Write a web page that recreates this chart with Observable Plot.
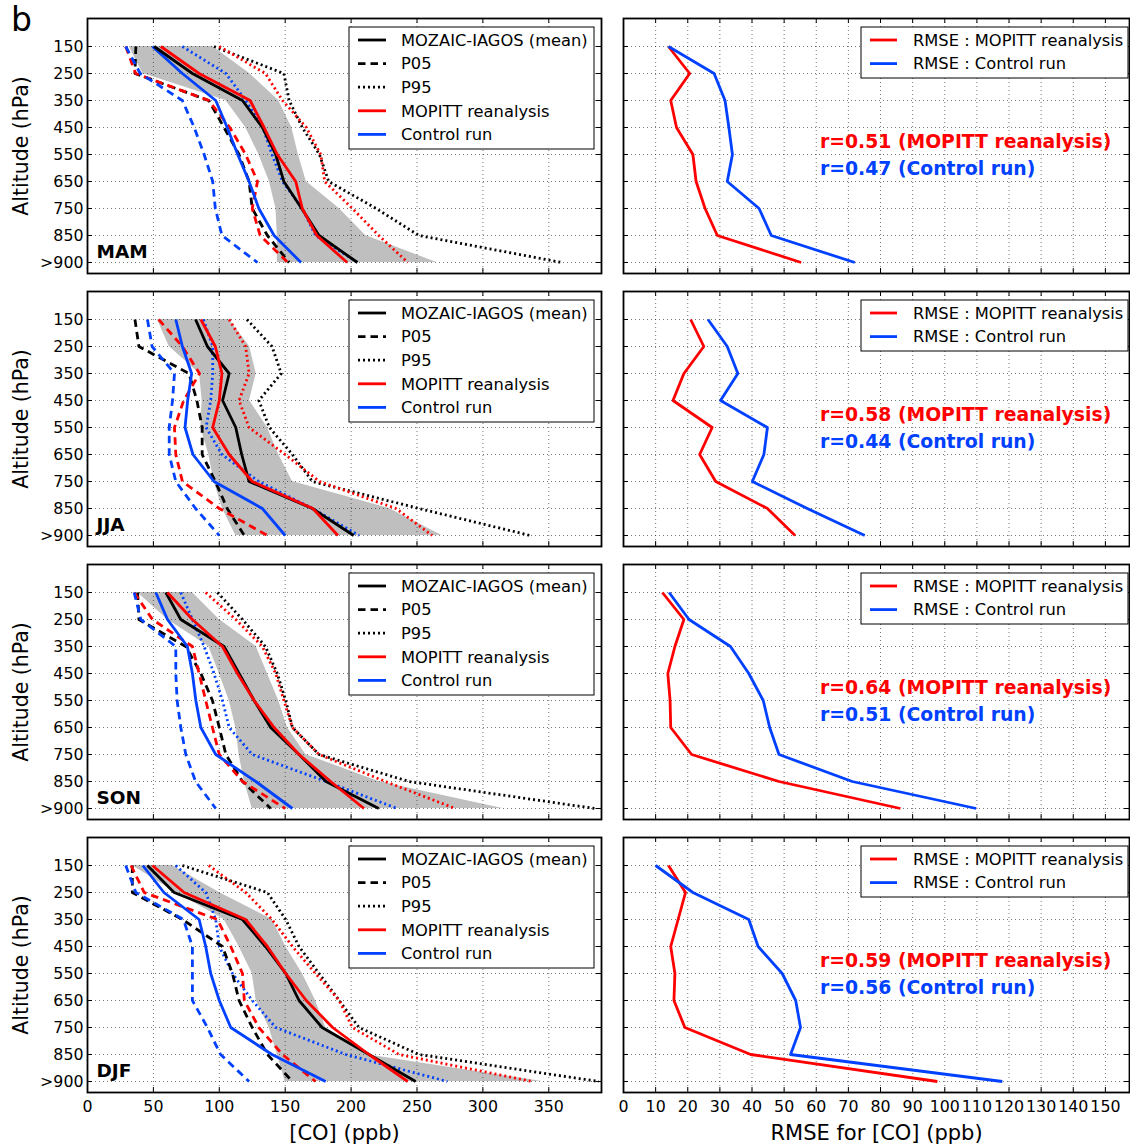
<!DOCTYPE html>
<html><head><meta charset="utf-8">
<script src="https://cdn.jsdelivr.net/npm/d3@7"></script>
<script src="https://cdn.jsdelivr.net/npm/@observablehq/plot@0.6"></script>
<style>
body{margin:0;background:#fff}
#fig{position:relative;width:1130px;height:1147px;font-family:"DejaVu Sans",sans-serif;overflow:hidden;background:#fff}
.cell{position:absolute}
.cell svg{display:block;max-width:none}
</style></head><body><div id="fig"></div>
<script>
// ---------- categories & ticks ----------
const levels = ["150","250","350","450","550","650","750","850",">900"];
const seasonNames = ["MAM","JJA","SON","DJF"];
const coTicks = [0,50,100,150,200,250,300,350];
const rmseTicks = [0,10,20,30,40,50,60,70,80,90,100,110,120,130,140,150];
const legendLeft = ["MOZAIC-IAGOS (mean)","P05","P95","MOPITT reanalysis","Control run"];
const legendRight = ["RMSE : MOPITT reanalysis","RMSE : Control run"];

// ---------- MAM ----------
const mamObsMean = [50.6,79.6,117.6,132.7,142.8,149,162.5,175.7,204.8];
const mamObsP05  = [36.7,36,92,103.6,115,122.6,125,136.5,153];
const mamObsP95  = [96,149,153,163,176,183,219,251.5,360];
const mamReaMean = [55.6,84.7,123.4,134,144,158,163,174,197];
const mamReaP05  = [29,36.5,92,108,120,129,125,131,152];
const mamReaP95  = [100,135,148,166,177,180,201,221,243];
const mamCtlMean = [49.3,72,97.3,106,114,122.6,130,141.6,162];
const mamCtlP05  = [29,40,72,81,88.5,95,97,102,129];
const mamCtlP95  = [72,105,120,133,140,148,163,173,205];
const mamBandLo  = [31.6,42,105,120,130,138,143,144,144];
const mamBandHi  = [95,123,145,155,160,166,191,211,265];
const mamRmseRea = [14,20.6,14.7,16.5,21.6,22.6,25.4,29.2,55.3];
const mamRmseCtl = [14,28.2,31.6,32.8,33.9,32.3,42.2,46,72];
const mamR = ["r=0.51 (MOPITT reanalysis)","r=0.47 (Control run)"];

// ---------- JJA ----------
const jjaObsMean = [82,91,107.5,102.5,112.5,117,122.6,170.6,202];
const jjaObsP05  = [36,39,77,83,87,87,97,106,119];
const jjaObsP95  = [121,140,147,130,138,155.5,170.6,251.5,336];
const jjaReaMean = [86,97,102,100,95,107.5,125,171,190];
const jjaReaP05  = [54,72,85,73,66,67,72,100,136.5];
const jjaReaP95  = [107.5,120,122.6,115,122.6,150,176,234,261.6];
const jjaCtlMean = [67,72,79,76,74,80,96,132.7,150];
const jjaCtlP05  = [45.5,49,66,64.5,62,62,67,82,100];
const jjaCtlP95  = [88,95,95,93.5,90,102,130,170.6,206];
const jjaBandLo  = [53,62,85,87,86,92,96,102.4,112.5];
const jjaBandHi  = [107.5,123,128,123,136.5,145,155.5,229,269];
const jjaRmseRea = [20.9,25,18.8,15.4,27.6,23.7,28.7,44.8,53.4];
const jjaRmseCtl = [26.3,32.3,35.6,30.2,44.8,43.7,40.1,57.2,75.1];
const jjaR = ["r=0.58 (MOPITT reanalysis)","r=0.44 (Control run)"];

// ---------- SON ----------
const sonObsMean = [59.4,70.8,103.6,115,126.4,139,160.5,181,221];
const sonObsP05  = [38,39,74.6,86,94.8,100,105,117.6,139];
const sonObsP95  = [98.6,117.6,135,144,150.4,155.5,175.7,244,385];
const sonReaMean = [60.7,79.6,102.4,113.8,126.4,141.6,160.5,184.5,209.8];
const sonReaP05  = [35.4,49.3,79.6,84.7,89.7,94.8,100,117.6,150];
const sonReaP95  = [89.7,112.5,132.7,142.8,149,155.5,175.7,226,279];
const sonCtlMean = [51.8,60.7,75.8,79.6,82.2,86,97.3,127.7,155.5];
const sonCtlP05  = [35.4,40.5,67,67,68,70.8,74.6,82,97.3];
const sonCtlP95  = [70.8,79.6,88.5,96,102.4,107.5,125,181,235];
const sonBandLo  = [38,60.7,92,100,107.5,112.5,115,119,125];
const sonBandHi  = [79.6,100,128,136.5,145,151.7,165.6,221,315];
const sonRmseRea = [12.1,18.8,16,13.8,14.5,14.7,21.2,48.4,86.2];
const sonRmseCtl = [14.2,20.4,33.3,39,43.5,45.5,48.4,71.2,109.8];
const sonR = ["r=0.64 (MOPITT reanalysis)","r=0.51 (Control run)"];

// ---------- DJF ----------
const djfObsMean = [45.5,65.7,117.6,135,150.4,160.5,178,213.6,249];
const djfObsP05  = [34,34,72,102.4,110,115,125,136.5,155.5];
const djfObsP95  = [72,136.5,150.4,160.5,175.7,191,206,251.5,388];
const djfReaMean = [49.3,73.3,120,136.5,150.4,166,186,213.6,243];
const djfReaP05  = [33,43,98.6,108.7,117.6,119,130,148,173];
const djfReaP95  = [92,120,140,155.5,173,191,201,236.4,337.5];
const djfCtlMean = [42,58,84.7,89.7,93.5,100,108.7,140,180.7];
const djfCtlP05  = [29,36.7,72.8,79.6,79.6,79.6,91,101,122.6];
const djfCtlP95  = [67,89.7,97.3,100,110,125,142.8,196,273];
const djfBandLo  = [34,67,103.6,115,125,128,137.8,144,150];
const djfBandHi  = [64.5,100,140,150.4,163,173,180.7,211,345];
const djfRmseRea = [14,19.3,17,14.7,16,15.7,19.1,39.6,97.7];
const djfRmseCtl = [10,21.6,39,41.9,49.4,53.6,55.1,52,117.9];
const djfR = ["r=0.59 (MOPITT reanalysis)","r=0.56 (Control run)"];

// ---------- assemble ----------
const seasons = [
  {name:"MAM",obsMean:mamObsMean,obsP05:mamObsP05,obsP95:mamObsP95,reaMean:mamReaMean,reaP05:mamReaP05,reaP95:mamReaP95,ctlMean:mamCtlMean,ctlP05:mamCtlP05,ctlP95:mamCtlP95,lo:mamBandLo,hi:mamBandHi,rmseRea:mamRmseRea,rmseCtl:mamRmseCtl,r:mamR},
  {name:"JJA",obsMean:jjaObsMean,obsP05:jjaObsP05,obsP95:jjaObsP95,reaMean:jjaReaMean,reaP05:jjaReaP05,reaP95:jjaReaP95,ctlMean:jjaCtlMean,ctlP05:jjaCtlP05,ctlP95:jjaCtlP95,lo:jjaBandLo,hi:jjaBandHi,rmseRea:jjaRmseRea,rmseCtl:jjaRmseCtl,r:jjaR},
  {name:"SON",obsMean:sonObsMean,obsP05:sonObsP05,obsP95:sonObsP95,reaMean:sonReaMean,reaP05:sonReaP05,reaP95:sonReaP95,ctlMean:sonCtlMean,ctlP05:sonCtlP05,ctlP95:sonCtlP95,lo:sonBandLo,hi:sonBandHi,rmseRea:sonRmseRea,rmseCtl:sonRmseCtl,r:sonR},
  {name:"DJF",obsMean:djfObsMean,obsP05:djfObsP05,obsP95:djfObsP95,reaMean:djfReaMean,reaP05:djfReaP05,reaP95:djfReaP95,ctlMean:djfCtlMean,ctlP05:djfCtlP05,ctlP95:djfCtlP95,lo:djfBandLo,hi:djfBandHi,rmseRea:djfRmseRea,rmseCtl:djfRmseCtl,r:djfR}
];

// ---------- style / layout ----------
const RED = "#ff0000", BLUE = "#0040ff", GRAY = "#bfbfbf";
const DASH = "7.5,5", DOT = "2,3", LW = 2.8;
const TOP0 = 18, STEP = 273, FH = 255;
const L_SVG = 0, L_ML = 87, L_W = 514, L_MR = 8;
const R_SVG = 609, R_ML = 14, R_W = 506, R_MR = 1;
const PAD = 8, MB_BOTTOM = 55, TICK = 5;
const FONT = "DejaVu Sans";

const fig = document.getElementById("fig");
const profile = (arr) => arr.map((v, i) => ({level: levels[i], value: v}));
const line = (arr, stroke, dash) => Plot.line(profile(arr), {
  x: "value", y: "level", stroke, strokeWidth: LW,
  strokeDasharray: dash, strokeLinecap: "butt", strokeLinejoin: "round"
});
const grid = (xt) => [
  Plot.ruleX(xt.filter(d => d > 0), {x: d => d, stroke: "#000", strokeOpacity: 0.6, strokeWidth: 0.9, strokeDasharray: "1,3"}),
  Plot.ruleY(levels, {y: d => d, stroke: "#000", strokeOpacity: 0.6, strokeWidth: 0.9, strokeDasharray: "1,3"})
];
const innerTicks = (xt, FW) => [
  Plot.ruleX(xt, {x: d => d, insetTop: FH - TICK, stroke: "black", strokeWidth: 1}),
  Plot.ruleX(xt, {x: d => d, insetBottom: FH - TICK, stroke: "black", strokeWidth: 1}),
  Plot.ruleY(levels, {y: d => d, insetRight: FW - TICK, stroke: "black", strokeWidth: 1}),
  Plot.ruleY(levels, {y: d => d, insetLeft: FW - TICK, stroke: "black", strokeWidth: 1})
];
const yScale = {type: "point", domain: levels, padding: 0, insetTop: 27.3, insetBottom: 10.3};

function place(svg, left, top) {
  const d = document.createElement("div");
  d.className = "cell";
  d.style.left = left + "px";
  d.style.top = top + "px";
  d.appendChild(svg);
  fig.appendChild(d);
}

function coPanel(s, row, bottom) {
  const top = TOP0 + row * STEP;
  const mb = bottom ? MB_BOTTOM : PAD;
  const band = levels.map((l, i) => ({level: l, lo: s.lo[i], hi: s.hi[i]}));
  const marks = [
    Plot.areaX(band, {y: "level", x1: "lo", x2: "hi", fill: GRAY}),
    ...grid(coTicks),
    line(s.obsP95, "black", DOT), line(s.reaP95, RED, DOT), line(s.ctlP95, BLUE, DOT),
    line(s.obsP05, "black", DASH), line(s.reaP05, RED, DASH), line(s.ctlP05, BLUE, DASH),
    line(s.ctlMean, BLUE), line(s.obsMean, "black"), line(s.reaMean, RED),
    ...innerTicks(coTicks, L_W),
    Plot.frame({stroke: "black", strokeWidth: 1.8}),
    Plot.axisY({tickSize: 0, tickPadding: 4, fontSize: 15.8, label: null}),
    Plot.text([s.name], {text: d => d, frameAnchor: "bottom-left", dx: 9, dy: -21, textAnchor: "start", lineAnchor: "middle", fontSize: 18.5, fontWeight: "bold"}),
    Plot.text(["Altitude (hPa)"], {text: d => d, frameAnchor: "left", dx: -66, rotate: -90, textAnchor: "middle", lineAnchor: "middle", fontSize: 20.5})
  ];
  if (bottom) {
    marks.push(Plot.axisX({ticks: coTicks, tickSize: 0, tickPadding: 8, fontSize: 15.8, label: null}));
    marks.push(Plot.text(["[CO] (ppb)"], {text: d => d, frameAnchor: "bottom", dy: 41, lineAnchor: "middle", fontSize: 21}));
  }
  const svg = Plot.plot({
    width: L_ML + L_W + L_MR, height: PAD + FH + mb,
    marginLeft: L_ML, marginRight: L_MR, marginTop: PAD, marginBottom: mb,
    style: {fontFamily: FONT, fontSize: "15.5px", color: "black", background: "transparent", overflow: "visible"},
    x: {domain: [0, 390], ...(bottom ? {} : {axis: null})},
    y: yScale,
    marks
  });
  place(svg, L_SVG, top - PAD);
}

function rmsePanel(s, row, bottom) {
  const top = TOP0 + row * STEP;
  const mb = bottom ? MB_BOTTOM : PAD;
  const marks = [
    ...grid(rmseTicks),
    line(s.rmseRea, RED), line(s.rmseCtl, BLUE),
    ...innerTicks(rmseTicks, R_W),
    Plot.frame({stroke: "black", strokeWidth: 1.8})
  ];
  if (bottom) {
    marks.push(Plot.axisX({ticks: rmseTicks, tickSize: 0, tickPadding: 8, fontSize: 15.8, label: null}));
    marks.push(Plot.text(["RMSE for [CO] (ppb)"], {text: d => d, frameAnchor: "bottom", dy: 41, lineAnchor: "middle", fontSize: 21}));
  }
  const svg = Plot.plot({
    width: R_ML + R_W + R_MR, height: PAD + FH + mb,
    marginLeft: R_ML, marginRight: R_MR, marginTop: PAD, marginBottom: mb,
    style: {fontFamily: FONT, fontSize: "15.5px", color: "black", background: "transparent", overflow: "visible"},
    x: {domain: [0, 157.5], ...(bottom ? {} : {axis: null})},
    y: {...yScale, axis: null},
    marks
  });
  place(svg, R_SVG, top - PAD);
}

seasons.forEach((s, i) => {
  coPanel(s, i, i === seasons.length - 1);
  rmsePanel(s, i, i === seasons.length - 1);
});

// ---------- legends, annotations (overlay) ----------
const ov = d3.select("#fig").append("svg")
  .attr("width", 1130).attr("height", 1147)
  .style("position", "absolute").style("left", "0px").style("top", "0px")
  .style("font-family", FONT);

ov.append("text").attr("x", 11).attr("y", 31).attr("font-size", 33).text("b");

const leftStyles = [["black", null], ["black", DASH], ["black", DOT], [RED, null], [BLUE, null]];
const rightStyles = [[RED, null], [BLUE, null]];
seasons.forEach((s, i) => {
  const top = TOP0 + i * STEP;
  // left legend
  const gl = ov.append("g");
  gl.append("rect").attr("x", 349).attr("y", top + 9).attr("width", 245).attr("height", 122)
    .attr("fill", "white").attr("stroke", "black").attr("stroke-width", 1);
  legendLeft.forEach((t, j) => {
    const y = top + 22 + j * 23.6;
    gl.append("line").attr("x1", 358).attr("x2", 386).attr("y1", y).attr("y2", y)
      .attr("stroke", leftStyles[j][0]).attr("stroke-width", LW)
      .attr("stroke-dasharray", leftStyles[j][1]);
    gl.append("text").attr("x", 401).attr("y", y).attr("dy", "0.35em").attr("font-size", 16.3).text(t);
  });
  // right legend
  const gr = ov.append("g");
  gr.append("rect").attr("x", 861).attr("y", top + 9).attr("width", 267).attr("height", 51)
    .attr("fill", "white").attr("stroke", "black").attr("stroke-width", 1);
  legendRight.forEach((t, j) => {
    const y = top + 22 + j * 23.6;
    gr.append("line").attr("x1", 870).attr("x2", 897).attr("y1", y).attr("y2", y)
      .attr("stroke", rightStyles[j][0]).attr("stroke-width", LW);
    gr.append("text").attr("x", 913).attr("y", y).attr("dy", "0.35em").attr("font-size", 16.3).text(t);
  });
  // correlation annotations
  ov.append("text").attr("x", 820).attr("y", top + 123).attr("dy", "0.35em")
    .attr("font-size", 18.8).attr("font-weight", "bold").attr("fill", RED).text(s.r[0]);
  ov.append("text").attr("x", 820).attr("y", top + 150).attr("dy", "0.35em")
    .attr("font-size", 18.8).attr("font-weight", "bold").attr("fill", BLUE).text(s.r[1]);
});
</script></body></html>
